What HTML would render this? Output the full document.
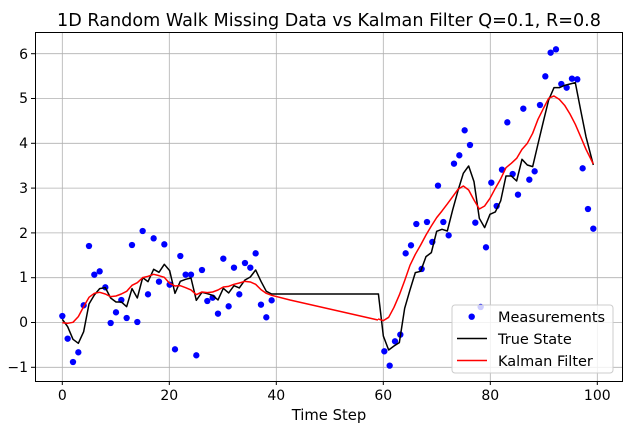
<!DOCTYPE html>
<html><head><meta charset="utf-8"><style>
html,body{margin:0;padding:0;background:#fff;}
svg{display:block;font-family:"DejaVu Sans","Liberation Sans",sans-serif;}
</style></head><body>
<svg width="635" height="426" viewBox="0 0 635 426" xmlns="http://www.w3.org/2000/svg">
<rect width="635" height="426" fill="#fff"/>
<text x="329" y="26" font-size="17.6" text-anchor="middle">1D Random Walk Missing Data vs Kalman Filter Q=0.1, R=0.8</text>
<g stroke="#b0b0b0" stroke-width="0.8">
<line x1="62.3" y1="33" x2="62.3" y2="381"/><line x1="169.3" y1="33" x2="169.3" y2="381"/><line x1="276.3" y1="33" x2="276.3" y2="381"/><line x1="383.3" y1="33" x2="383.3" y2="381"/><line x1="490.3" y1="33" x2="490.3" y2="381"/><line x1="597.3" y1="33" x2="597.3" y2="381"/>
<line x1="36" y1="367.3" x2="622" y2="367.3"/><line x1="36" y1="322.5" x2="622" y2="322.5"/><line x1="36" y1="277.7" x2="622" y2="277.7"/><line x1="36" y1="232.9" x2="622" y2="232.9"/><line x1="36" y1="188.1" x2="622" y2="188.1"/><line x1="36" y1="143.3" x2="622" y2="143.3"/><line x1="36" y1="98.5" x2="622" y2="98.5"/><line x1="36" y1="53.7" x2="622" y2="53.7"/>
</g>
<g fill="#0000ff">
<g transform="translate(30,180) scale(0.3333)">
<circle cx="97" cy="408" r="9.5"/><circle cx="113" cy="476" r="9.5"/><circle cx="129" cy="546" r="9.5"/><circle cx="145" cy="517" r="9.5"/><circle cx="161" cy="376" r="9.5"/><circle cx="177" cy="198" r="9.5"/><circle cx="193" cy="284" r="9.5"/><circle cx="209" cy="274" r="9.5"/><circle cx="226" cy="322" r="9.5"/><circle cx="242" cy="429" r="9.5"/><circle cx="258" cy="397" r="9.5"/><circle cx="274" cy="360" r="9.5"/><circle cx="290" cy="414" r="9.5"/><circle cx="306" cy="195" r="9.5"/><circle cx="322" cy="426" r="9.5"/><circle cx="338" cy="153" r="9.5"/><circle cx="354" cy="343" r="9.5"/><circle cx="371" cy="175" r="9.5"/><circle cx="387" cy="305" r="9.5"/><circle cx="403" cy="193" r="9.5"/><circle cx="419" cy="314" r="9.5"/><circle cx="435" cy="508" r="9.5"/><circle cx="451" cy="228" r="9.5"/><circle cx="467" cy="284" r="9.5"/><circle cx="483" cy="284" r="9.5"/><circle cx="499" cy="526" r="9.5"/><circle cx="516" cy="270" r="9.5"/><circle cx="532" cy="363" r="9.5"/><circle cx="548" cy="353" r="9.5"/><circle cx="564" cy="401" r="9.5"/><circle cx="580" cy="236" r="9.5"/><circle cx="596" cy="379" r="9.5"/><circle cx="612" cy="263" r="9.5"/><circle cx="628" cy="343" r="9.5"/><circle cx="645" cy="249" r="9.5"/><circle cx="661" cy="263" r="9.5"/><circle cx="677" cy="220" r="9.5"/><circle cx="693" cy="374" r="9.5"/><circle cx="709" cy="412" r="9.5"/><circle cx="725" cy="361" r="9.5"/>
</g>
<g transform="translate(360,30) scale(0.3333)">
<circle cx="73" cy="964" r="9.5"/><circle cx="89" cy="1007" r="9.5"/><circle cx="105" cy="934" r="9.5"/><circle cx="121" cy="914" r="9.5"/><circle cx="137" cy="670" r="9.5"/><circle cx="153" cy="646" r="9.5"/><circle cx="169" cy="582" r="9.5"/><circle cx="185" cy="717" r="9.5"/><circle cx="201" cy="576" r="9.5"/><circle cx="217" cy="636" r="9.5"/><circle cx="234" cy="467" r="9.5"/><circle cx="250" cy="576" r="9.5"/><circle cx="266" cy="616" r="9.5"/><circle cx="282" cy="401" r="9.5"/><circle cx="298" cy="376" r="9.5"/><circle cx="314" cy="301" r="9.5"/><circle cx="330" cy="345" r="9.5"/><circle cx="346" cy="578" r="9.5"/><circle cx="362" cy="831" r="9.5"/><circle cx="378" cy="652" r="9.5"/><circle cx="394" cy="458" r="9.5"/><circle cx="410" cy="528" r="9.5"/><circle cx="426" cy="419" r="9.5"/><circle cx="442" cy="277" r="9.5"/><circle cx="458" cy="432" r="9.5"/><circle cx="474" cy="494" r="9.5"/><circle cx="490" cy="236" r="9.5"/><circle cx="508" cy="449" r="9.5"/><circle cx="524" cy="424" r="9.5"/><circle cx="540" cy="225" r="9.5"/><circle cx="556" cy="139" r="9.5"/><circle cx="572" cy="68" r="9.5"/><circle cx="588" cy="58" r="9.5"/><circle cx="604" cy="162" r="9.5"/><circle cx="620" cy="173" r="9.5"/><circle cx="636" cy="146" r="9.5"/><circle cx="652" cy="148" r="9.5"/><circle cx="668" cy="415" r="9.5"/><circle cx="684" cy="537" r="9.5"/><circle cx="700" cy="596" r="9.5"/>
</g>
</g>
<g fill="none" stroke-width="4.5" stroke-linejoin="round">
<g transform="translate(30,180) scale(0.3333)">
<polyline stroke="#000" points="97,418 113,440 129,478 145,490 161,455 177,372 193,345 209,326 226,323 242,354 258,366 274,366 290,380 306,326 322,354 338,293 354,305 371,268 387,277 403,253 419,272 435,340 451,304 467,298 483,294 499,361 516,337 532,341 548,346 564,360 580,325 596,339 612,317 628,324 645,300 661,291 677,270 693,304 709,334 725,342 1044,342"/>
<polyline stroke="#ff0000" points="97,428 113,430 129,427 145,410 161,380 177,352 193,340 209,337 226,342 242,350 258,348 274,342 290,334 306,316 322,308 338,293 354,289 371,283 387,287 403,292 419,310 435,318 451,317 467,323 483,330 499,344 516,336 532,338 548,336 564,330 580,321 596,319 612,313 628,309 645,304 661,306 677,313 693,329 709,340 725,346 780,360 1044,420"/>
</g>
<g transform="translate(360,30) scale(0.3333)">
<polyline stroke="#000" points="55,790 70,918 86,960 102,948 118,938 134,835 150,780 166,728 182,724 198,680 214,668 230,604 246,598 262,603 278,540 294,482 310,430 326,408 342,455 358,565 374,593 390,553 406,546 422,513 438,438 454,438 470,453 486,388 502,405 518,410 534,342 550,275 566,210 582,173 598,173 614,166 630,162 646,158 662,240 678,320 700,405"/>
<polyline stroke="#ff0000" points="54,867 70,872 86,862 102,832 118,795 134,752 150,706 166,673 182,645 198,615 214,588 230,563 246,543 262,522 278,500 294,478 310,468 326,480 342,510 358,537 374,528 390,505 406,475 422,447 438,413 454,400 470,385 486,358 502,340 518,310 534,268 550,236 566,205 582,198 598,208 614,226 630,252 646,283 662,320 678,358 700,402"/>
</g>
</g>
<rect x="35.5" y="32.5" width="587" height="349" fill="none" stroke="#000" stroke-width="1"/>
<g stroke="#000" stroke-width="1">
<line x1="62.3" y1="381" x2="62.3" y2="385"/><line x1="169.3" y1="381" x2="169.3" y2="385"/><line x1="276.3" y1="381" x2="276.3" y2="385"/><line x1="383.3" y1="381" x2="383.3" y2="385"/><line x1="490.3" y1="381" x2="490.3" y2="385"/><line x1="597.3" y1="381" x2="597.3" y2="385"/>
<line x1="31" y1="367.3" x2="35" y2="367.3"/><line x1="31" y1="322.5" x2="35" y2="322.5"/><line x1="31" y1="277.7" x2="35" y2="277.7"/><line x1="31" y1="232.9" x2="35" y2="232.9"/><line x1="31" y1="188.1" x2="35" y2="188.1"/><line x1="31" y1="143.3" x2="35" y2="143.3"/><line x1="31" y1="98.5" x2="35" y2="98.5"/><line x1="31" y1="53.7" x2="35" y2="53.7"/>
</g>
<g font-size="14" text-anchor="middle">
<text x="62.3" y="400">0</text><text x="169.3" y="400">20</text><text x="276.3" y="400">40</text><text x="383.3" y="400">60</text><text x="490.3" y="400">80</text><text x="597.3" y="400">100</text>
<text x="329" y="420" font-size="14.8">Time Step</text>
</g>
<g font-size="14" text-anchor="end">
<text x="28" y="372">−1</text><text x="28" y="327">0</text><text x="28" y="282">1</text><text x="28" y="238">2</text><text x="28" y="193">3</text><text x="28" y="148">4</text><text x="28" y="103">5</text><text x="28" y="59">6</text>
</g>
<rect x="452" y="305" width="161" height="68" rx="3" fill="#fff" fill-opacity="0.8" stroke="#cccccc" stroke-width="1"/>
<circle cx="471.7" cy="316.7" r="3.2" fill="#0000ff"/>
<line x1="457" y1="338.5" x2="487" y2="338.5" stroke="#000" stroke-width="1.5"/>
<line x1="457" y1="360.5" x2="487" y2="360.5" stroke="#ff0000" stroke-width="1.5"/>
<g font-size="14.5"><text x="498" y="322">Measurements</text><text x="498" y="344">True State</text><text x="498" y="366">Kalman Filter</text></g>
</svg>
</body></html>
